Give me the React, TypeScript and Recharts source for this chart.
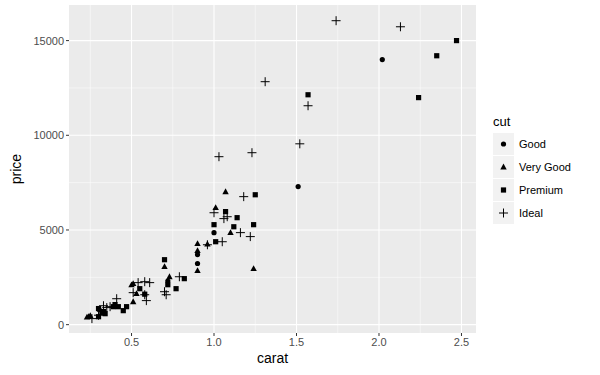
import React from 'react'
import { CartesianGrid, ReferenceLine, Scatter, ScatterChart, XAxis, YAxis, Label } from 'recharts';

const good = [
  [0.72, 2300], [0.9, 3700], [0.9, 3230], [1.0, 4860], [1.51, 7290], [2.02, 14000],
]
const veryGood = [
  [0.23, 400], [0.24, 420], [0.25, 480], [0.31, 800], [0.5, 2100], [0.51, 2170], [0.53, 1640],
  [0.51, 1210], [0.7, 3060], [0.73, 2530], [0.9, 4280], [0.9, 3910], [0.9, 2850],
  [0.96, 4250], [1.01, 6180], [1.07, 7020], [1.1, 4860], [1.24, 2960],
]
const premium = [
  [0.3, 420], [0.3, 850], [0.32, 640], [0.33, 690], [0.34, 580], [0.39, 950], [0.4, 1060],
  [0.42, 950], [0.45, 740], [0.47, 950], [0.55, 1900], [0.58, 1610], [0.7, 3430],
  [0.72, 2110], [0.77, 1900], [0.82, 2430], [1.0, 5280], [1.01, 4380], [1.07, 5970],
  [1.12, 5170], [1.14, 5650], [1.24, 5280], [1.25, 6860], [1.57, 12140], [2.24, 11990],
  [2.35, 14200], [2.47, 15000],
]
const ideal = [
  [0.26, 320], [0.3, 500], [0.33, 1000], [0.35, 900], [0.37, 950], [0.41, 1370], [0.51, 1690],
  [0.54, 2220], [0.58, 2270], [0.61, 2220], [0.58, 1580], [0.59, 1270], [0.7, 1740],
  [0.71, 1580], [0.79, 2530], [0.96, 4220], [1.0, 5910], [1.05, 4380], [1.06, 5600],
  [1.08, 5700], [1.16, 4860], [1.18, 6760], [1.22, 4650], [1.23, 9080], [1.03, 8870],
  [1.31, 12830], [1.52, 9550], [1.57, 11560], [1.74, 16050], [2.13, 15730],
]

const xTicks = [0.5, 1.0, 1.5, 2.0, 2.5]
const yTicks = [0, 5000, 10000, 15000]
const xMinor = [0.25, 0.75, 1.25, 1.75, 2.25]
const yMinor = [2500, 7500, 12500]
const cuts = ['Good', 'Very Good', 'Premium', 'Ideal']

const toPts = (arr: number[][]) => arr.map(([carat, price]) => ({ carat, price }))

const Dot = (p: any) => <circle cx={p.cx} cy={p.cy} r={2.6} fill="#000" />
const Tri = (p: any) => (
  <polygon points={`${p.cx},${p.cy - 3.4} ${p.cx - 3.2},${p.cy + 2.4} ${p.cx + 3.2},${p.cy + 2.4}`} fill="#000" />
)
const Sq = (p: any) => <rect x={p.cx - 2.6} y={p.cy - 2.6} width={5.2} height={5.2} fill="#000" />
const Plus = (p: any) => (
  <path d={`M${p.cx - 4.5},${p.cy}H${p.cx + 4.5}M${p.cx},${p.cy - 4.5}V${p.cy + 4.5}`} stroke="#000" strokeWidth={1} />
)

const shapeFor = [Dot, Tri, Sq, Plus]

const LegendBox = () => (
  <div style={{ position: 'absolute', left: 493, top: 114, fontFamily: 'Liberation Sans, Arial, sans-serif', color: '#000' }}>
    <div style={{ fontSize: 13, marginBottom: 3 }}>cut</div>
    {cuts.map((c, i) => {
      const S = shapeFor[i]
      return (
        <div key={c} style={{ display: 'flex', alignItems: 'center', height: 23 }}>
          <svg width={21} height={22} style={{ background: '#F2F2F2', marginRight: 5, display: 'block' }}>
            {S({ cx: 10.5, cy: 11 })}
          </svg>
          <span style={{ fontSize: 11 }}>{c}</span>
        </div>
      )
    })}
  </div>
)

const App = () => {
  return (
    <div style={{ position: 'absolute', left: 0, top: 0, width: 600, height: 375, background: '#fff' }}>
      <ScatterChart width={600} height={375} margin={{ top: 5, right: 124, bottom: 0, left: 0 }}
        style={{ fontFamily: 'Liberation Sans, Arial, sans-serif' }}>
        <CartesianGrid stroke="#fff" strokeWidth={1.1} fill="#EBEBEB" verticalValues={xTicks} horizontalValues={yTicks} />
        {xMinor.map(v => <ReferenceLine key={'x' + v} x={v} stroke="#fff" strokeWidth={0.5} />)}
        {yMinor.map(v => <ReferenceLine key={'y' + v} y={v} stroke="#fff" strokeWidth={0.5} />)}
        <XAxis type="number" dataKey="carat" domain={[0.121, 2.588]} ticks={xTicks} height={42}
          tickFormatter={(v: number) => v.toFixed(1)} axisLine={false} tickSize={3} tickMargin={2}
          tickLine={{ stroke: '#333', strokeWidth: 1 }} tick={{ fill: '#4D4D4D', fontSize: 11 }} allowDataOverflow>
          <Label value="carat" position="insideBottom" offset={12} style={{ fill: '#000', fontSize: 14 }} />
        </XAxis>
        <YAxis type="number" dataKey="price" domain={[-440, 16880]} ticks={yTicks} width={69}
          axisLine={false} tickSize={3} tickLine={{ stroke: '#333', strokeWidth: 1 }}
          tick={{ fill: '#4D4D4D', fontSize: 11 }} allowDataOverflow>
          <Label value="price" angle={-90} position="insideLeft" offset={16} style={{ fill: '#000', fontSize: 14, textAnchor: 'middle' }} />
        </YAxis>
        <Scatter name="Good" data={toPts(good)} shape={Dot} isAnimationActive={false} />
        <Scatter name="Very Good" data={toPts(veryGood)} shape={Tri} isAnimationActive={false} />
        <Scatter name="Premium" data={toPts(premium)} shape={Sq} isAnimationActive={false} />
        <Scatter name="Ideal" data={toPts(ideal)} shape={Plus} isAnimationActive={false} />
      </ScatterChart>
      <LegendBox />
    </div>
  )
}

export default App
